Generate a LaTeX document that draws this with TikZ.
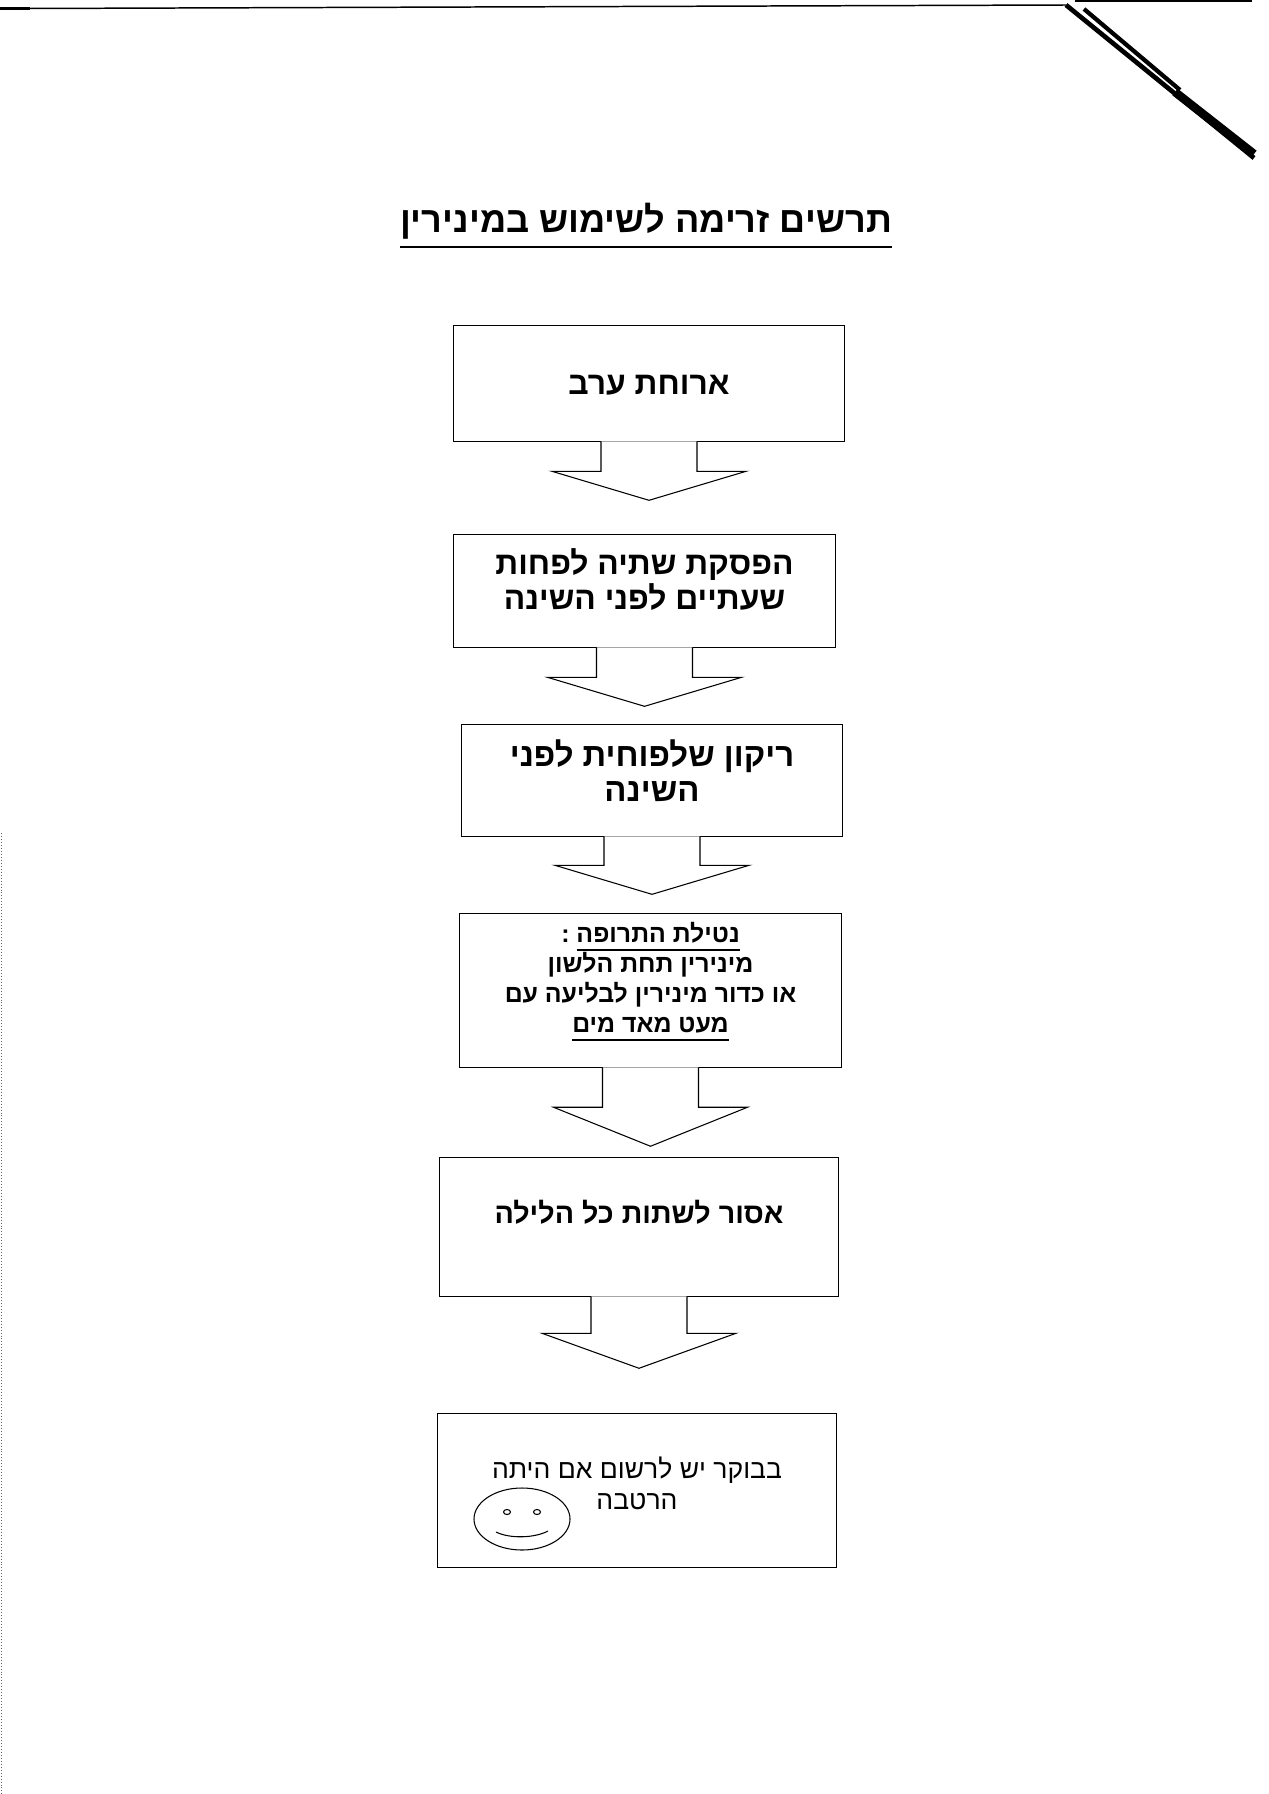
\documentclass[tikz,border=0pt]{standalone}
\usepackage{fontspec}
\newfontfamily\heb[Script=Hebrew]{Liberation Sans}
\TeXXeTstate=1
\usetikzlibrary{calc}
\newlength\px
\setlength\px{0.46909pt}
\newcommand\rl[1]{\beginR #1\endR}
\newcommand\ulhe[2][1pt]{\vtop{\hbox{\beginR #2\endR}\kern3pt\hrule height #1}}
% block arrow under a box: node, shaft length, head length
\newcommand\blockarrow[3]{\filldraw[fill=white] ($(#1.south)+(-48,-1)$) -- ++(0,#2+1) -- ++(-49,0) -- ++(97,#3) -- ++(97,-#3) -- ++(-49,0) -- ++(0,-#2-1);}
\begin{document}
\begin{tikzpicture}[x=0.16548mm, y=-0.16548mm, line width=0.5pt,
	box/.style={draw, inner sep=0pt},
	steptext/.style={font=\heb\bfseries\fontsize{#1}{16.4}\selectfont, align=center},
	steptext/.default=15,
	smalltext/.style={font=\heb\bfseries\fontsize{11.7}{14.2}\selectfont, align=center},
	plaintext/.style={font=\heb\fontsize{12.5}{14.5}\selectfont, align=center}]
	\useasboundingbox (0,0) rectangle (1269,1794);
	% scan edges
	\draw[line width=1.4pt] (0,8.5) -- (30,8.5);
	\draw[line width=0.7pt] (30,8.5) -- (1066,5);
	\draw (1075,1) -- (1252,1);
	\draw[line width=2.2pt] (1066,5) -- (1254,158);
	\draw[line width=2pt] (1084,9) -- (1180,90);
	\draw[line width=4pt] (1175,92) -- (1254,154);
	\draw[densely dotted, line width=0.4pt, black!60] (1.5,833) -- (1.5,1794);
	% title
	\node[font=\heb\bfseries\fontsize{17}{20}\selectfont, anchor=base] (title) at (646,233) {\beginR\ulhe[1.1pt]{תרשים זרימה לשימוש במינירין}\endR};
	% boxes
	\node[box, minimum width=392*\px, minimum height=117*\px] (b1) at (649,383.5) {};
	\node[box, minimum width=383*\px, minimum height=114*\px] (b2) at (644.5,591) {};
	\node[box, minimum width=382*\px, minimum height=113*\px] (b3) at (652,780.5) {};
	\node[box, minimum width=383*\px, minimum height=155*\px] (b4) at (650.5,990.5) {};
	\node[box, minimum width=400*\px, minimum height=140*\px] (b5) at (639,1227) {};
	\node[box, minimum width=400*\px, minimum height=155*\px] (b6) at (637,1490.5) {};
	\node[steptext] (t1) at ($(b1.center)+(0,1.5)$) {\rl{ארוחת ערב}};
	\node[steptext] (t2) at ($(b2.center)+(0,-11.5)$) {\rl{הפסקת שתיה לפחות}\\\rl{שעתיים לפני השינה}};
	\node[steptext=15.5] (t3) at ($(b3.center)+(0,-10)$) {\rl{ריקון שלפוחית לפני}\\\rl{השינה}};
	\node[smalltext] (t4) at ($(b4.center)+(0,-9)$) {\beginR\ulhe[0.8pt]{נטילת התרופה} :\endR\\\rl{מינירין תחת הלשון}\\\rl{או כדור מינירין לבליעה עם}\\\beginR\ulhe[0.8pt]{מעט מאד מים}\endR};
	\node[steptext=13.5] (t5) at ($(b5.center)+(0,-15)$) {\rl{אסור לשתות כל הלילה}};
	\node[plaintext] (t6) at ($(b6.center)+(0,-7)$) {\rl{בבוקר יש לרשום אם היתה}\\\rl{הרטבה}};
	% arrows
	\blockarrow{b1}{29}{29}
	\blockarrow{b2}{29}{29}
	\blockarrow{b3}{28}{29}
	\blockarrow{b4}{39}{39}
	\blockarrow{b5}{36}{35}
	% smiley
	\draw (522,1519) ellipse [x radius=48, y radius=31];
	\draw (507,1512) ellipse [x radius=3.5, y radius=2.5];
	\draw (537,1512) ellipse [x radius=3.5, y radius=2.5];
	\draw (496,1532) .. controls (510,1539) and (535,1538) .. (548,1531);
\end{tikzpicture}
\end{document}
